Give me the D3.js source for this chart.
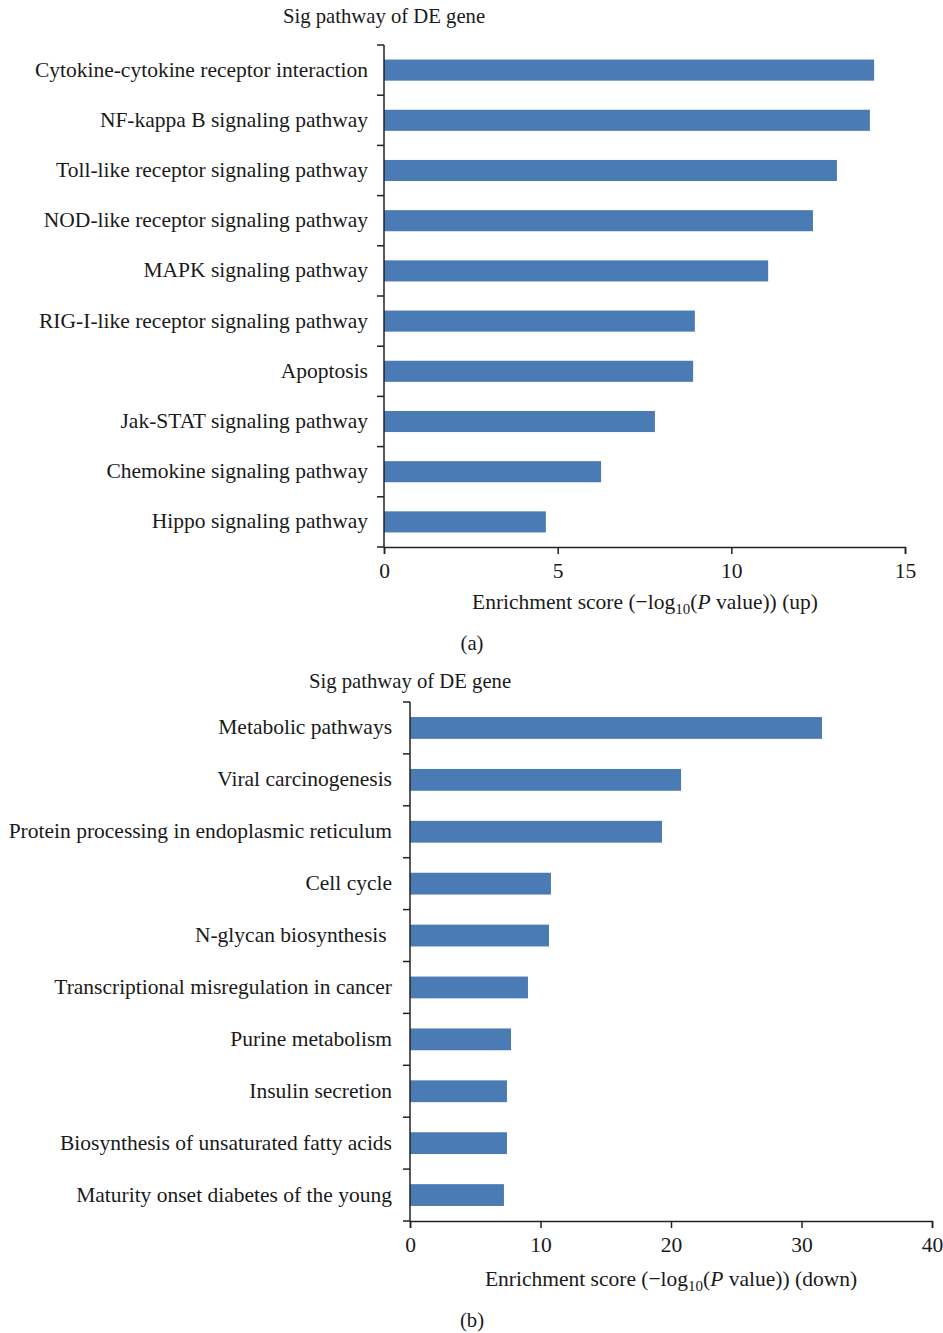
<!DOCTYPE html>
<html>
<head>
<meta charset="utf-8">
<script src="https://cdn.jsdelivr.net/npm/d3@7"></script>
<style>
  body { margin: 0; background: #fff; }
  svg text { font-family: "Liberation Serif", "DejaVu Serif", serif; fill: #1a1a1a; white-space: pre; }
</style>
</head>
<body>
<svg id="chart" width="943" height="1333"></svg>
<script>
// Panel (a): up-regulated
const upPathways = [
    "Cytokine-cytokine receptor interaction",
    "NF-kappa B signaling pathway",
    "Toll-like receptor signaling pathway",
    "NOD-like receptor signaling pathway",
    "MAPK signaling pathway",
    "RIG-I-like receptor signaling pathway",
    "Apoptosis",
    "Jak-STAT signaling pathway",
    "Chemokine signaling pathway",
    "Hippo signaling pathway"
];
const upScores = [14.11, 13.99, 13.04, 12.35, 11.06, 8.95, 8.90, 7.80, 6.25, 4.66];
const upTicks = [0, 5, 10, 15];

// Panel (b): down-regulated
const downPathways = [
    "Metabolic pathways",
    "Viral carcinogenesis",
    "Protein processing in endoplasmic reticulum",
    "Cell cycle",
    "N-glycan biosynthesis ",
    "Transcriptional misregulation in cancer",
    "Purine metabolism",
    "Insulin secretion",
    "Biosynthesis of unsaturated fatty acids",
    "Maturity onset diabetes of the young"
];
const downScores = [31.57, 20.77, 19.31, 10.80, 10.65, 9.04, 7.74, 7.43, 7.43, 7.20];
const downTicks = [0, 10, 20, 30, 40];

const svg = d3.select('#chart');
const barColor = '#4b7bb4';
const fontSize = 21.5;

function drawPanel(opts) {
    const g = svg.append('g');
    const x = d3.scaleLinear()
        .domain([0, opts.ticks[opts.ticks.length - 1]])
        .range([opts.left, opts.right]);
    const y = d3.scaleBand()
        .domain(opts.names)
        .range([opts.top, opts.bottom])
        .paddingInner(0.58)
        .paddingOuter(0.29);

    // bars
    g.selectAll('rect')
        .data(opts.names)
        .enter()
        .append('rect')
        .attr('x', x(0))
        .attr('y', d => y(d))
        .attr('width', (d, i) => x(opts.values[i]) - x(0))
        .attr('height', y.bandwidth())
        .attr('fill', barColor);

    // y axis with ticks between categories
    const step = (opts.bottom - opts.top) / opts.names.length;
    g.append('line')
        .attr('x1', x(0)).attr('x2', x(0))
        .attr('y1', opts.top).attr('y2', opts.bottom)
        .attr('stroke', '#222').attr('stroke-width', 1.5);
    g.selectAll('.ytick')
        .data(d3.range(opts.names.length + 1))
        .enter()
        .append('line')
        .attr('x1', x(0) - 7).attr('x2', x(0))
        .attr('y1', i => opts.top + i * step)
        .attr('y2', i => opts.top + i * step)
        .attr('stroke', '#222').attr('stroke-width', 1.5);

    // category labels
    g.selectAll('.ylab')
        .data(opts.names)
        .enter()
        .append('text')
        .attr('x', x(0) - opts.labelGap)
        .attr('y', d => y(d) + y.bandwidth() / 2 - 1)
        .attr('dy', '0.35em')
        .attr('text-anchor', 'end')
        .attr('font-size', fontSize)
        .text(d => d);

    // x axis
    const xAxis = d3.axisBottom(x)
        .tickValues(opts.ticks)
        .tickSize(7)
        .tickPadding(9)
        .tickFormat(d3.format('d'));
    const ax = g.append('g')
        .attr('transform', `translate(0,${opts.bottom})`)
        .call(xAxis);
    ax.select('.domain').attr('stroke', '#222').attr('stroke-width', 1.5);
    ax.selectAll('.tick line').attr('stroke', '#222').attr('stroke-width', 1.5);
    ax.selectAll('.tick text')
        .attr('font-size', fontSize)
        .attr('font-family', '"Liberation Serif", serif')
        .attr('fill', '#1a1a1a');

    // title
    g.append('text')
        .attr('x', opts.titleX)
        .attr('y', opts.titleY)
        .attr('text-anchor', 'middle')
        .attr('font-size', 20.7)
        .text('Sig pathway of DE gene');

    // x axis label with subscript and italic P
    const lab = g.append('text')
        .attr('x', opts.xlabX)
        .attr('y', opts.xlabY)
        .attr('text-anchor', 'middle')
        .attr('font-size', fontSize);
    lab.append('tspan').text('Enrichment score (\u2212log');
    lab.append('tspan').attr('font-size', 15).attr('dy', 5).text('10');
    lab.append('tspan').attr('dy', -5).text('(');
    lab.append('tspan').attr('font-style', 'italic').text('P');
    lab.append('tspan').text(' value)) (' + opts.dir + ')');

    // panel letter
    g.append('text')
        .attr('x', opts.letterX)
        .attr('y', opts.letterY)
        .attr('text-anchor', 'middle')
        .attr('font-size', 20.7)
        .text(opts.letter);
}

drawPanel({
    names: upPathways, values: upScores, ticks: upTicks,
    left: 384, right: 905, top: 45, bottom: 547, labelGap: 16,
    titleX: 384, titleY: 23,
    xlabX: 645, xlabY: 609, dir: 'up',
    letter: '(a)', letterX: 472, letterY: 650
});

drawPanel({
    names: downPathways, values: downScores, ticks: downTicks,
    left: 410, right: 932, top: 702, bottom: 1221, labelGap: 18,
    titleX: 410, titleY: 688,
    xlabX: 671, xlabY: 1286, dir: 'down',
    letter: '(b)', letterX: 472, letterY: 1327
});
</script>
</body>
</html>
